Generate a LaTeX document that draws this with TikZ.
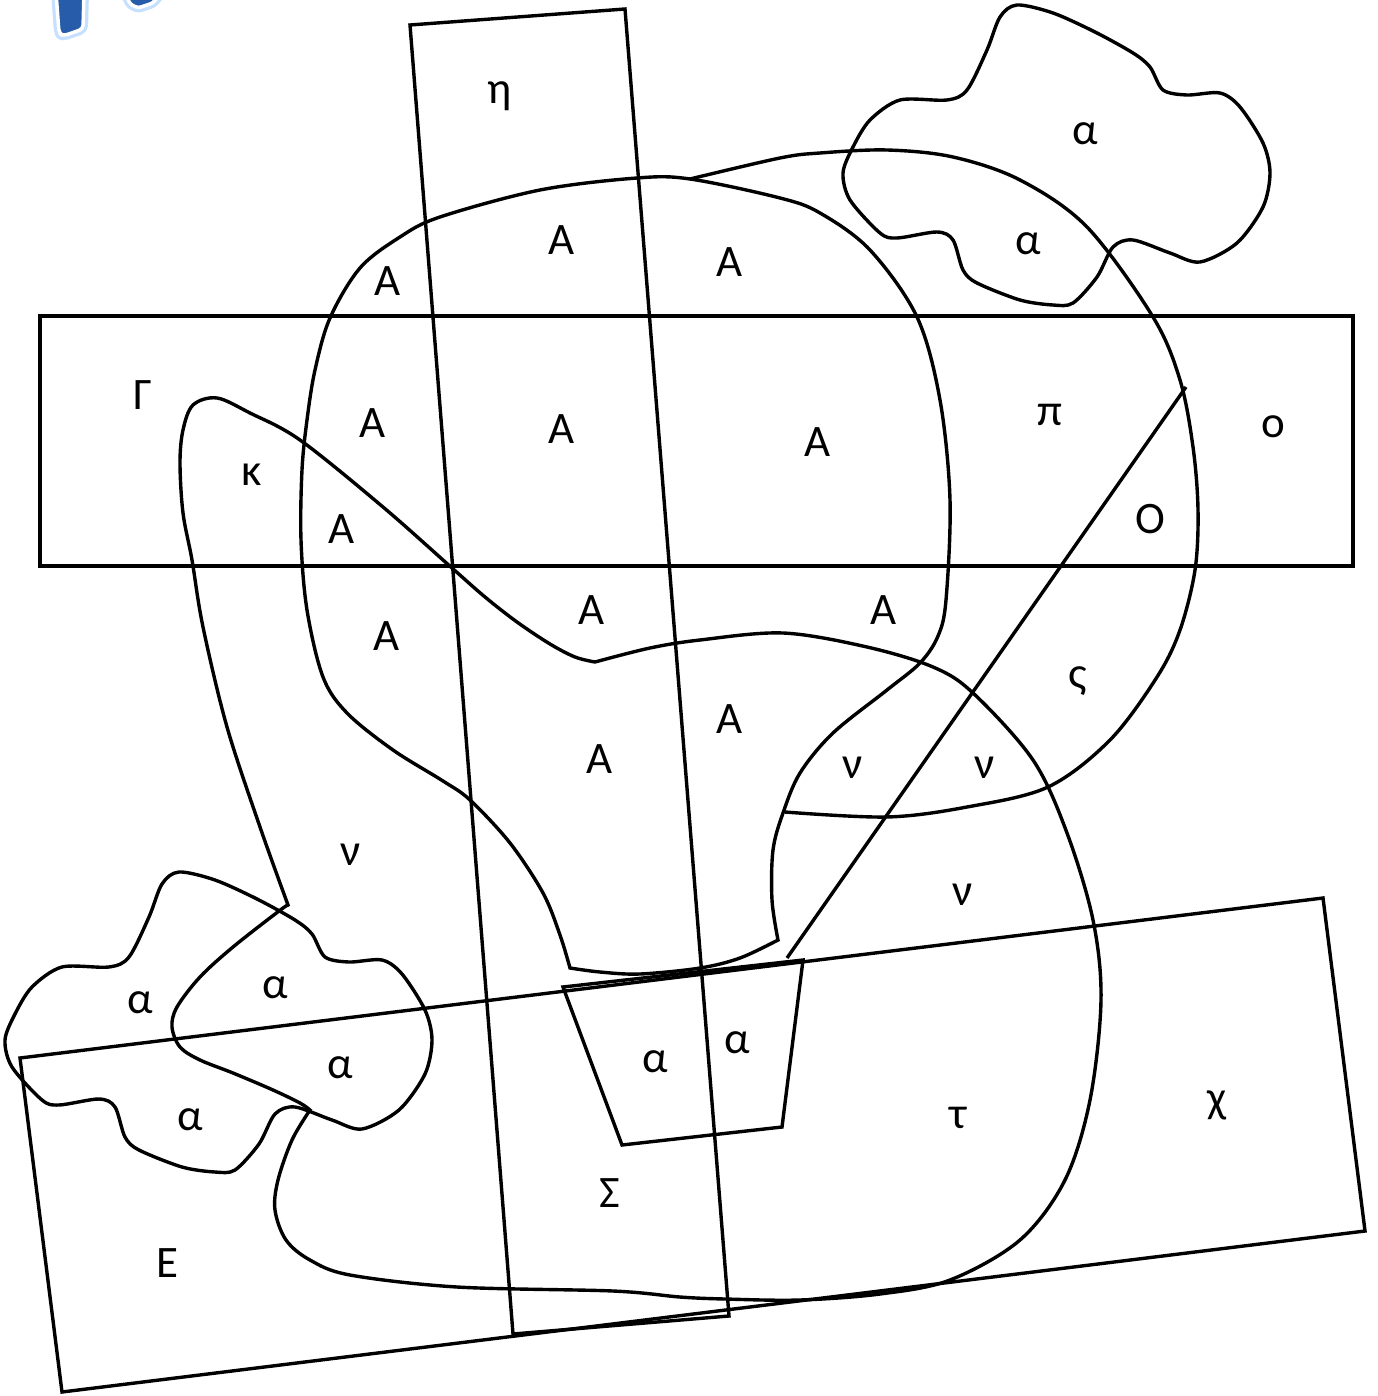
\documentclass[tikz,border=0pt]{standalone}
\usepackage{fontspec}
\setmainfont{Carlito}
\definecolor{logoblue}{RGB}{38,92,170}
\definecolor{logoglow}{RGB}{160,205,255}
\tikzset{
  shp/.style={line width=3.4pt, black},
  lbl/.style={font=\fontsize{45}{54}\selectfont, anchor=base, inner sep=0pt},
  glowline/.style={line width=10pt, logoglow, opacity=0.6, line join=round},
  logoshape/.style={line width=3.5pt, white, fill=logoblue, line join=round}
}
\begin{document}
\begin{tikzpicture}[x=1pt,y=-1pt]
\useasboundingbox (0,0) rectangle (1377,1396);
\fill[white] (0,0) rectangle (1377,1396);

% partial blue logo at top left
\begin{scope}
\clip (0,0) rectangle (1377,1396);
\draw[glowline, rounded corners=4pt] (56,-8) -- (84,-8) -- (83,29) -- (63,36) -- (59,33) -- cycle;
\draw[glowline, rounded corners=3pt] (125,-8) -- (162,-8) -- (153,3) -- (138,8) -- (130,4) -- cycle;
\draw[logoshape, rounded corners=4pt] (56,-8) -- (84,-8) -- (83,29) -- (63,36) -- (59,33) -- cycle;
\draw[logoshape, rounded corners=3pt] (125,-8) -- (162,-8) -- (153,3) -- (138,8) -- (130,4) -- cycle;
\end{scope}

% horizontal rectangle
\draw[shp] (40,316) rectangle (1353,566);
% tall tilted rectangle
\draw[shp] (410,25) -- (625,9) -- (729,1316) -- (513,1334) -- cycle;
% bottom tilted rectangle
\draw[shp] (20,1058) -- (1323,898) -- (1365,1231) -- (62,1392) -- cycle;
% trapezoid
\draw[shp] (563,987) -- (803,960) -- (782,1127) -- (622,1145) -- cycle;
% straight line
\draw[shp] (1186,387) -- (787,958);

% A blob
\draw[shp] plot[smooth, tension=0.55] coordinates {
 (570,968) (560,935) (543,893) (510,843) (470,800) (443,781) (393,750) (347,713)
 (323,677) (307,610) (301,540) (302,470) (307,420) (315,370) (330,318) (360,268)
 (400,237) (440,217) (540,190) (637,178) (690,179) (780,198) (820,213) (870,250)
 (917,317) (940,400) (950,500) (946,600) (938,636) (920,663) (887,690) (833,733)
 (800,773) (783,813) (773,850) (772,900) (778,940)}
 -- plot[smooth, tension=0.55] coordinates {
 (778,940) (740,958) (700,968) (640,974) (600,972) (570,968)} -- cycle;

% big round curve (open)
\draw[shp] plot[smooth, tension=0.55] coordinates {
 (690,179) (780,158) (820,153) (887,150) (953,157) (1020,180) (1087,227) (1153,317)
 (1180,380) (1193,447) (1198,510) (1195,570) (1180,630) (1157,677) (1110,740)
 (1048,787) (967,807) (887,817) (785,812)};

% kappa / nu shape
\draw[shp] plot[smooth, tension=0.55] coordinates {
 (595,662) (575,657) (550,644) (517,622) (485,597) (452,568) (383,507) (300,440)
 (250,413) (217,398) (193,405) (183,430) (180,463) (183,513) (192,560) (203,627)
 (227,727) (260,827) (288,905)}
 -- plot[smooth, tension=0.55] coordinates {
 (288,905) (279,911) (233,947) (200,977) (177,1007) (172,1027) (180,1047) (200,1060)
 (233,1073) (273,1090) (300,1103) (310,1110)}
 -- plot[smooth, tension=0.55] coordinates {
 (310,1110) (292,1140) (278,1180) (275,1210) (286,1240) (310,1260) (350,1275)
 (457,1287) (613,1291) (680,1297) (725,1299) (800,1300) (880,1294) (950,1280)
 (1020,1240) (1065,1180) (1090,1100) (1101,1000) (1093,920) (1067,833) (1033,760)
 (973,693) (933,667) (867,647) (783,633) (700,640) (650,648) (595,662)} -- cycle;

% clouds
\def\cloudpts{(1017,5) (1053,13) (1095,32) (1133,53) (1150,67) (1163,90) (1187,95)
 (1220,93) (1240,107) (1263,143) (1270,173) (1263,207) (1237,243) (1200,262)
 (1170,253) (1133,240) (1113,247) (1097,277) (1073,303) (1053,305) (1020,300)
 (977,283) (963,270) (953,240) (937,232) (897,238) (880,233) (850,200) (843,173)
 (853,147) (870,120) (900,100) (947,100) (967,90) (987,50) (1000,17)}
\draw[shp] plot[smooth cycle, tension=0.5] coordinates {\cloudpts};
\begin{scope}[shift={(-838,867)}]
\draw[shp] plot[smooth cycle, tension=0.5] coordinates {\cloudpts};
\end{scope}

% labels
\node[lbl] (g1) at (143,409) {Γ};
\node[lbl] (k1) at (252,485) {κ};
\node[lbl] (a1) at (388,296) {Α};
\node[lbl] (a2) at (562,255) {Α};
\node[lbl] (a3) at (730,277) {Α};
\node[lbl] (a4) at (373,437) {Α};
\node[lbl] (a5) at (562,443) {Α};
\node[lbl] (a6) at (818,456) {Α};
\node[lbl] (a7) at (342,543) {Α};
\node[lbl] (a8) at (387,650) {Α};
\node[lbl] (a9) at (592,624) {Α};
\node[lbl] (a10) at (884,624) {Α};
\node[lbl] (a11) at (730,733) {Α};
\node[lbl] (a12) at (600,773) {Α};
\node[lbl] (p1) at (1050,425) {π};
\node[lbl] (o1) at (1273,437) {ο};
\node[lbl] (o2) at (1150,533) {Ο};
\node[lbl] (s1) at (1078,688) {ς};
\node[lbl] (n1) at (853,778) {ν};
\node[lbl] (n2) at (985,778) {ν};
\node[lbl] (n3) at (351,865) {ν};
\node[lbl] (n4) at (963,905) {ν};
\node[lbl] (h1) at (500,104) {η};
\node[lbl] (al1) at (1085,145) {α};
\node[lbl] (al2) at (1028,255) {α};
\node[lbl] (al3) at (140,1013) {α};
\node[lbl] (al4) at (275,998) {α};
\node[lbl] (al5) at (340,1078) {α};
\node[lbl] (al6) at (190,1130) {α};
\node[lbl] (al7) at (655,1072) {α};
\node[lbl] (al8) at (737,1053) {α};
\node[lbl] (t1) at (958,1128) {τ};
\node[lbl] (c1) at (1217,1112) {χ};
\node[lbl] (sg1) at (610,1207) {Σ};
\node[lbl] (e1) at (167,1277) {Ε};
\end{tikzpicture}
\end{document}
